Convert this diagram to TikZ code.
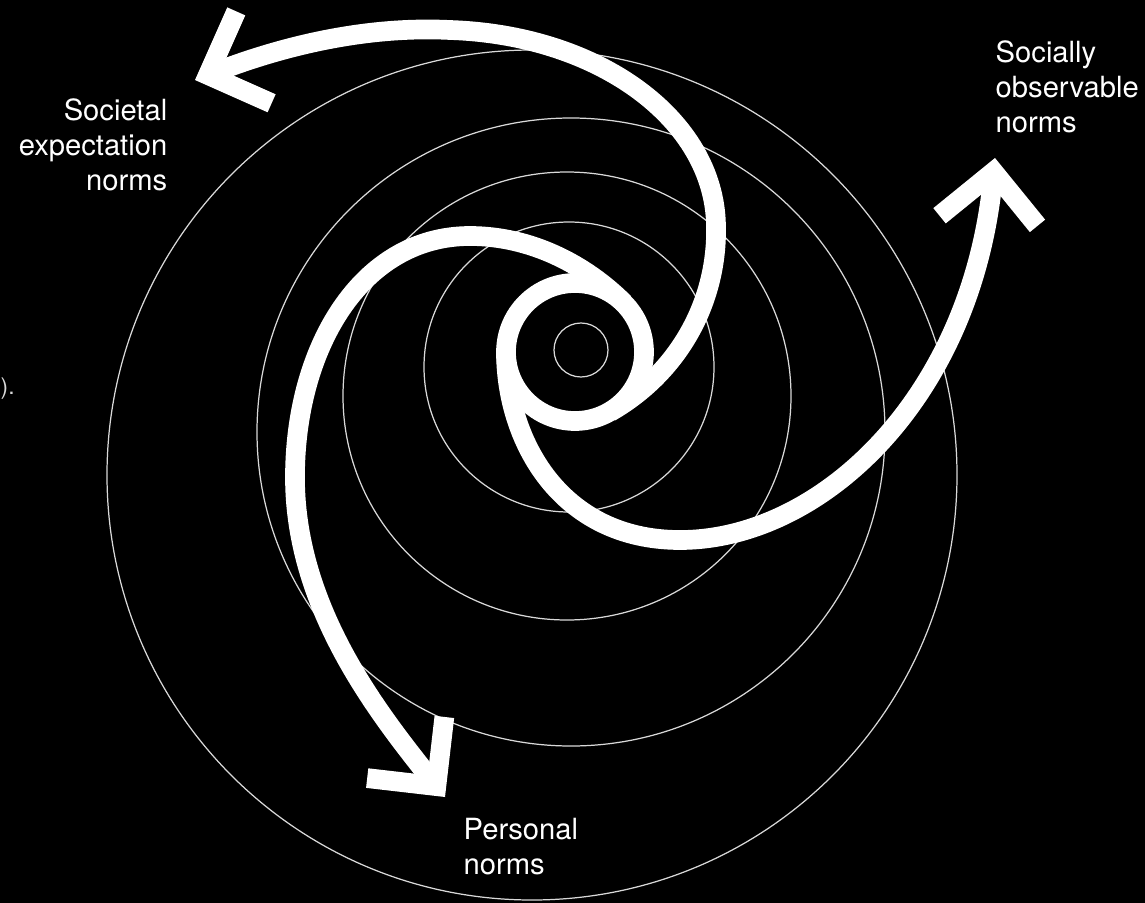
\documentclass[tikz,border=0pt]{standalone}
\usepackage{fontspec}
\setmainfont{TeX Gyre Heros}
\usetikzlibrary{arrows.meta}

\tikzset{
  guide/.style={white!85!black,line width=0.35pt},
  swirl/.style={white,line width=5.6pt},
  barb/.style={-{Straight Barb[length=14pt,width=28pt]}},
  lbl/.style={text=white,inner sep=0pt,font=\fontsize{8.3}{9.9}\selectfont}
}

\begin{document}
\begin{tikzpicture}[x=0.01cm,y=-0.01cm]
  \useasboundingbox (0,0) rectangle (1145,903);
  \fill[black] (0,0) rectangle (1145,903);
  % thin guide circles
  \draw[guide] (581,350) circle[radius=27];
  \draw[guide] (569,367) circle[radius=145];
  \draw[guide] (567,396) circle[radius=224];
  \draw[guide] (571,432) circle[radius=314];
  \draw[guide] (532,475) circle[radius=425];
  % swirl: core ring and three arms
  \coordinate (core) at (575,352);
  \draw[swirl] (core) circle[radius=69];
  % to societal expectation norms
  \draw[swirl,barb] (610,412) .. controls (680,372) and (718,300) .. (716,225)
    .. controls (714,120) and (600,35) .. (450,30)
    .. controls (350,25) and (260,55) .. (195,80);
  % to socially observable norms
  \draw[swirl,barb] (506,352) .. controls (506,440) and (560,540) .. (680,540)
    .. controls (820,540) and (970,400) .. (995,158);
  % to personal norms
  \draw[swirl,barb] (624,303) .. controls (585,264) and (530,236) .. (470,236)
    .. controls (360,236) and (294,350) .. (295,480)
    .. controls (296,610) and (380,715) .. (445,797);
  % labels
  \node[lbl,align=right,anchor=north east] (societal) at (168,98)
    {Societal\\expectation\\norms};
  \node[lbl,align=left,anchor=north west] (observable) at (995,40)
    {Socially\\observable\\norms};
  \node[lbl,align=left,anchor=north west] (personal) at (463,818)
    {Personal\\norms};
  \node[text=white!85!black,inner sep=0pt,anchor=north west,
    font=\fontsize{6.5}{7.5}\selectfont] (cut) at (0,377) {).};
\end{tikzpicture}
\end{document}
